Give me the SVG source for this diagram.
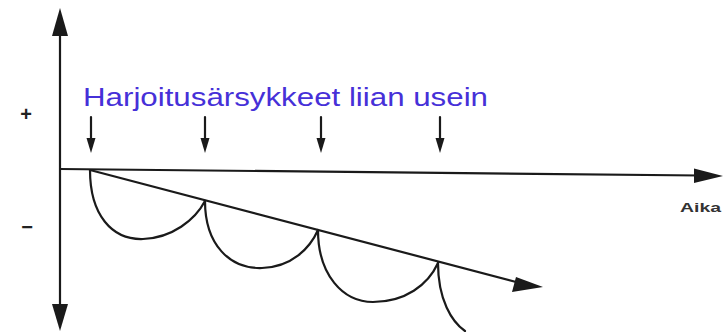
<svg xmlns="http://www.w3.org/2000/svg" width="724" height="332" viewBox="0 0 724 332">
<defs>
<style>
.ln{fill:none;stroke:#1a1a1a;stroke-width:2.2;stroke-linecap:round}
.hd{fill:#1a1a1a;stroke:none}
.sym{font-family:"Liberation Sans",Arial,sans-serif;font-weight:bold;fill:#222;font-size:20px;text-anchor:middle}
</style>
</defs>
<rect width="724" height="332" fill="#fff"/>
<g id="axes">
<line class="ln" x1="60" y1="30" x2="60" y2="308"/>
<polygon class="hd" points="60,8 52,36 68,36"/>
<polygon class="hd" points="60,331 52,304 68,304"/>
<line class="ln" x1="60" y1="169" x2="700" y2="175.5"/>
<polygon class="hd" points="723,176 694,168.5 694,183"/>
<text class="sym" x="26" y="121">+</text>
<text class="sym" x="27" y="234">−</text>
<text x="680" y="212" font-family="Liberation Sans,Arial,sans-serif" font-weight="bold" font-size="12" fill="#333" textLength="41" lengthAdjust="spacingAndGlyphs">Aika</text>
</g>
<g id="label">
<text x="83" y="106" font-family="Liberation Sans,Arial,sans-serif" font-size="25" fill="#4630d8" textLength="405" lengthAdjust="spacingAndGlyphs">Harjoitusärsykkeet liian usein</text>
</g>
<g id="stimuli">
<line class="ln" x1="91" y1="117" x2="91" y2="140"/>
<polygon class="hd" points="91,153 86.5,138 95.5,138"/>
<line class="ln" x1="205" y1="117" x2="205" y2="140"/>
<polygon class="hd" points="205,153 200.5,138 209.5,138"/>
<line class="ln" x1="321" y1="117" x2="321" y2="140"/>
<polygon class="hd" points="321,153 316.5,138 325.5,138"/>
<line class="ln" x1="440" y1="117" x2="440" y2="140"/>
<polygon class="hd" points="440,153 435.5,138 444.5,138"/>
</g>
<g id="trend">
<line class="ln" x1="90" y1="170" x2="520" y2="283"/>
<polygon class="hd" points="543,287 516,277 512,292"/>
</g>
<g id="curve">
<path class="ln" d="M90 170 C90 215 112 240 143 239 C172 238 195 220 205 201"/>
<path class="ln" d="M205 201 C205 245 230 269 262 268 C292 267 310 248 318 230"/>
<path class="ln" d="M318 230 C318 275 343 302 373 302 C405 302 428 285 438 263"/>
<path class="ln" d="M438 263 C438 300 452 322 465 331"/>
</g>
</svg>
